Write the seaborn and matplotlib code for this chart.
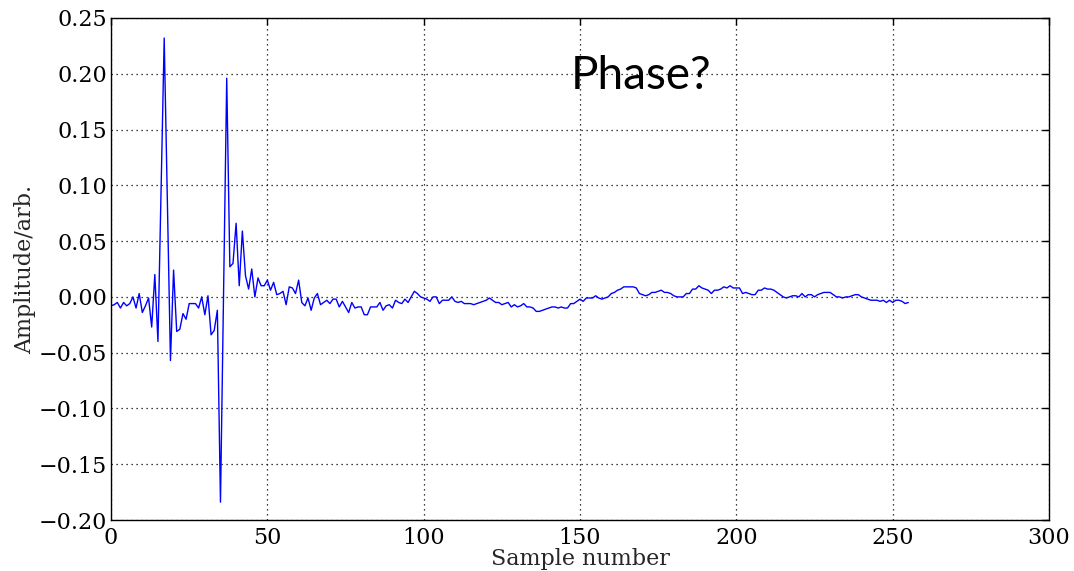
import numpy as np
import pandas as pd
import matplotlib
matplotlib.use("Agg")
import matplotlib.pyplot as plt
import seaborn as sns
from matplotlib.ticker import FuncFormatter

# Recorded echo trace, split into blocks of samples
block_0_31 = [
    -0.008, -0.007, -0.005, -0.010, -0.005, -0.008, -0.006, 0.000,
    -0.010, 0.003, -0.014, -0.008, -0.001, -0.027, 0.020, -0.040,
    0.095, 0.232, 0.085, -0.057, 0.024, -0.031, -0.029, -0.015,
    -0.020, -0.006, -0.006, -0.006, -0.010, 0.000, -0.016, 0.001,
]
block_32_63 = [
    -0.034, -0.030, -0.012, -0.184, 0.005, 0.196, 0.027, 0.030,
    0.066, 0.010, 0.059, 0.019, 0.007, 0.025, 0.000, 0.017,
    0.010, 0.010, 0.015, 0.006, 0.013, 0.002, 0.003, 0.005,
    -0.007, 0.009, 0.008, 0.003, 0.015, -0.005, -0.008, -0.001,
]
block_64_127 = [
    -0.012, -0.001, 0.003, -0.007, -0.005, -0.003, -0.006, -0.002,
    -0.002, -0.009, -0.004, -0.009, -0.014, -0.005, -0.010, -0.009,
    -0.009, -0.016, -0.016, -0.009, -0.009, -0.009, -0.005, -0.012,
    -0.008, -0.007, -0.010, -0.003, -0.005, -0.006, -0.002, -0.005,
    0.000, 0.005, 0.003, 0.000, -0.001, -0.002, -0.004, 0.000,
    0.000, -0.006, -0.003, -0.003, -0.003, 0.000, -0.004, -0.005,
    -0.004, -0.006, -0.006, -0.006, -0.007, -0.006, -0.005, -0.004,
    -0.003, -0.001, -0.003, -0.005, -0.005, -0.007, -0.006, -0.005,
]
block_128_191 = [
    -0.009, -0.007, -0.009, -0.008, -0.006, -0.009, -0.009, -0.010,
    -0.013, -0.013, -0.012, -0.011, -0.010, -0.009, -0.009, -0.010,
    -0.009, -0.010, -0.010, -0.006, -0.006, -0.004, -0.002, -0.004,
    -0.001, -0.001, -0.001, 0.001, -0.001, -0.002, -0.001, 0.000,
    0.003, 0.004, 0.006, 0.007, 0.009, 0.009, 0.009, 0.009,
    0.008, 0.003, 0.002, 0.001, 0.002, 0.004, 0.004, 0.005,
    0.006, 0.004, 0.004, 0.003, 0.001, 0.000, 0.000, 0.000,
    0.003, 0.003, 0.007, 0.007, 0.010, 0.008, 0.007, 0.006,
]
block_192_255 = [
    0.003, 0.006, 0.006, 0.007, 0.009, 0.008, 0.010, 0.008,
    0.008, 0.008, 0.003, 0.004, 0.003, 0.002, 0.002, 0.006,
    0.006, 0.008, 0.007, 0.007, 0.006, 0.004, 0.002, 0.000,
    -0.001, 0.000, 0.001, 0.001, 0.000, 0.003, 0.000, 0.002,
    0.002, 0.000, 0.002, 0.003, 0.004, 0.004, 0.004, 0.002,
    0.000, 0.000, -0.001, 0.000, 0.000, 0.001, 0.002, 0.002,
    0.000, -0.001, -0.002, -0.003, -0.003, -0.003, -0.004, -0.003,
    -0.005, -0.003, -0.005, -0.003, -0.003, -0.004, -0.006, -0.005,
]

amplitude = block_0_31 + block_32_63 + block_64_127 + block_128_191 + block_192_255
samples = list(range(len(amplitude)))

x_ticks = [0, 50, 100, 150, 200, 250, 300]
y_ticks = [-0.20, -0.15, -0.10, -0.05, 0.00, 0.05, 0.10, 0.15, 0.20, 0.25]

df = pd.DataFrame({"sample": samples, "amplitude": amplitude})

sns.set_style("white")
plt.rcParams["font.family"] = ["DejaVu Serif"]
plt.rcParams["axes.unicode_minus"] = True

fig = plt.figure(figsize=(10.74, 5.71), dpi=100)
ax = fig.add_axes([0.1034, 0.0893, 0.8733, 0.8792])

sns.lineplot(data=df, x="sample", y="amplitude", ax=ax,
             color="#0000ff", linewidth=1.0, estimator=None)

ax.set_xlim(0, 300)
ax.set_ylim(-0.20, 0.25)
ax.set_xticks(x_ticks)
ax.set_yticks(y_ticks)
ax.yaxis.set_major_formatter(
    FuncFormatter(lambda v, _: f"{v:.2f}".replace("-", "\u2212")))

ax.grid(True, color="black", linestyle=(0, (1, 3)), linewidth=0.9)
for side in ax.spines.values():
    side.set_color("black")
    side.set_linewidth(1.0)

ax.tick_params(direction="in", length=5, width=1, colors="black",
               top=True, right=True, labelsize=16, pad=5)
ax.tick_params(axis="y", pad=3)

ax.set_xlabel("Sample number", fontsize=16, labelpad=-1)
ax.set_ylabel("Amplitude/arb.", fontsize=16, labelpad=2)

ax.text(147, 0.186, "Phase?", fontsize=33, family=["Lato", "DejaVu Sans"],
        color="black", ha="left", va="baseline")

fig.savefig("out.png", dpi=100)
